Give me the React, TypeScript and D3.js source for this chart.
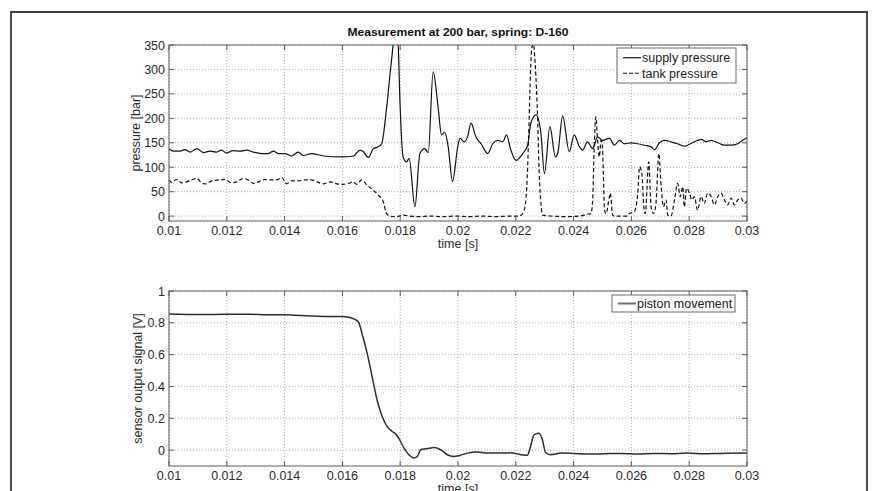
import React from 'react';
import * as d3 from 'd3';

// tick values
const timeTicks = [0.01, 0.012, 0.014, 0.016, 0.018, 0.02, 0.022, 0.024, 0.026, 0.028, 0.03];
const pressureTicks = [0, 50, 100, 150, 200, 250, 300, 350];
const signalTicks = [0, 0.2, 0.4, 0.6, 0.8, 1];

// supply pressure (time in ms, pressure in bar)
const supplyMs = [
  10.0, 10.15, 10.38, 10.55, 10.73, 10.96, 11.19, 11.42, 11.65, 11.82, 11.99, 12.22, 12.46, 12.69,
  12.92, 13.2, 13.44, 13.61, 13.78, 14.01, 14.24, 14.47, 14.65, 14.93, 15.35, 16.0, 16.38, 16.61,
  16.72, 16.9, 17.07, 17.24, 17.36, 17.53, 17.7, 17.85, 17.93, 17.99, 18.1, 18.22, 18.31, 18.51,
  18.68, 18.85, 18.97, 19.14, 19.31, 19.43, 19.54, 19.66, 19.81, 20.0, 20.07, 20.22, 20.33, 20.45,
  20.62, 20.8, 21.03, 21.2, 21.37, 21.55, 21.68, 21.83, 22.01, 22.24, 22.41, 22.52, 22.7, 22.87,
  22.99, 23.18, 23.37, 23.45, 23.62, 23.85, 24.02, 24.2, 24.31, 24.48, 24.66, 24.83, 25.0, 25.24,
  25.41, 25.59, 25.76, 25.99, 26.22, 26.45, 26.68, 26.8, 26.97, 27.14, 27.37, 27.6, 27.83, 28.01,
  28.18, 28.41, 28.58, 28.76, 28.99, 29.22, 29.45, 29.68, 29.85, 30.0,
];
const supplyBar = [
  138, 133, 133, 136, 131, 138, 130, 133, 131, 135, 129, 134, 133, 135,
  131, 128, 128, 133, 128, 128, 123, 131, 124, 128, 123, 121, 123, 135,
  132, 120, 138, 142, 148, 222, 319, 390, 350, 237, 121, 111, 118, 19,
  128, 138, 130, 295, 224, 166, 172, 142, 71, 145, 159, 152, 162, 190,
  162, 148, 128, 148, 155, 152, 166, 135, 114, 128, 145, 190, 207, 169,
  87, 183, 121, 128, 205, 132, 166, 142, 135, 152, 138, 162, 155, 159,
  145, 155, 148, 150, 148, 145, 142, 136, 150, 155, 152, 148, 143, 147,
  152, 157, 152, 155, 150, 145, 145, 148, 155, 160,
];

// tank pressure (time in ms, pressure in bar)
const tankMs = [
  10.0, 10.09, 10.27, 10.44, 10.61, 10.78, 10.96, 11.13, 11.25, 11.48, 11.71, 11.94, 12.17, 12.34,
  12.57, 12.74, 12.92, 13.09, 13.32, 13.55, 13.72, 13.9, 14.07, 14.24, 14.47, 14.7, 14.93, 15.12,
  15.35, 15.58, 15.81, 16.0, 16.21, 16.38, 16.49, 16.67, 16.84, 17.07, 17.24, 17.41, 17.53, 17.64,
  17.87, 18.1, 18.33, 18.68, 19.02, 19.48, 19.94, 20.39, 20.85, 21.31, 21.78, 22.06, 22.18, 22.29,
  22.38, 22.44, 22.49, 22.55, 22.61, 22.67, 22.76, 22.81, 22.87, 22.93, 23.27, 23.74, 24.2, 24.48,
  24.6, 24.66, 24.72, 24.77, 24.83, 24.89, 24.95, 24.99, 25.03, 25.07, 25.12, 25.24, 25.27, 25.35,
  25.41, 25.87, 25.93, 26.1, 26.22, 26.28, 26.36, 26.43, 26.48, 26.6, 26.68, 26.77, 26.85, 26.95,
  27.03, 27.11, 27.2, 27.26, 27.37, 27.49, 27.6, 27.69, 27.78, 27.83, 27.91, 28.01, 28.09, 28.18,
  28.29, 28.41, 28.52, 28.64, 28.76, 28.87, 28.99, 29.1, 29.22, 29.33, 29.45, 29.56, 29.68, 29.79,
  29.91, 30.0,
];
const tankBar = [
  74, 69, 75, 68, 70, 74, 77, 68, 66, 72, 74, 75, 68, 70,
  77, 74, 67, 70, 75, 74, 74, 79, 66, 72, 72, 74, 74, 70,
  66, 70, 66, 65, 67, 70, 65, 74, 64, 53, 43, 30, 5, 0,
  -1, 2, 0, -1, 0, -1, 0, -1, 0, -1, 0, 0, 2, 12,
  60, 155, 258, 343, 352, 312, 190, 87, 26, 2, 0, -1, 0, 4,
  5, 33, 155, 203, 155, 121, 155, 148, 87, 12, 5, 40, 47, 2,
  0, 0, 5, 9, 47, 101, 88, 19, 5, 111, 19, 5, 26, 128,
  60, 19, 33, 2, 0, 33, 67, 40, 60, 19, 57, 47, 33, 40,
  12, 40, 26, 47, 40, 23, 40, 47, 33, 23, 37, 23, 33, 37,
  26, 30,
];

// piston movement (time in ms, sensor signal in V)
const pistonMs = [
  10.0, 11.08, 12.0, 12.81, 13.39, 13.97, 14.55, 15.13, 15.7, 16.0, 16.21, 16.39, 16.56, 16.68,
  16.86, 17.03, 17.2, 17.38, 17.55, 17.72, 17.84, 17.95, 18.13, 18.3, 18.47, 18.59, 18.71, 18.88,
  19.05, 19.17, 19.4, 19.63, 19.86, 20.03, 20.32, 20.67, 21.01, 21.48, 21.82, 22.17, 22.4, 22.51,
  22.63, 22.8, 22.92, 23.03, 23.2, 23.55, 24.01, 24.47, 25.05, 25.62, 26.2, 26.78, 27.35, 27.93,
  28.51, 29.09, 30.0,
];
const pistonV = [
  0.856, 0.852, 0.854, 0.854, 0.85, 0.85, 0.846, 0.842, 0.84, 0.84, 0.835, 0.825, 0.804, 0.731,
  0.606, 0.46, 0.315, 0.21, 0.148, 0.117, 0.102, 0.075, 0.0125, -0.029, -0.05, -0.04, 0.002, 0.008,
  0.0125, 0.017, 0.002, -0.029, -0.04, -0.035, -0.019, -0.0125, -0.019, -0.019, -0.017, -0.029, -0.033, 0.023,
  0.096, 0.106, 0.065, -0.015, -0.029, -0.019, -0.021, -0.025, -0.023, -0.021, -0.025, -0.021, -0.023, -0.019,
  -0.023, -0.021, -0.019,
];

const W = 878;
const H = 491;
const FONT = '"Liberation Sans", Arial, Helvetica, sans-serif';
const LEFT = 169;
const RIGHT = 747;

const fmt = (v: number) => String(+v.toFixed(3));

interface Series {
  ms: number[];
  vals: number[];
  stroke: string;
  width: number;
  dash?: string;
}

interface LegendItem {
  label: string;
  stroke: string;
  width: number;
  dash?: string;
}

interface PanelProps {
  id: string;
  top: number;
  bottom: number;
  yDomain: [number, number];
  yTicks: number[];
  yLabel: string;
  yLabelX: number;
  series: Series[];
  legend: LegendItem[];
  legendBox: { x: number; y: number; w: number; h: number };
}

function Panel(props: PanelProps) {
  const { id, top, bottom, yDomain, yTicks, yLabel, yLabelX, series, legend, legendBox } = props;
  const x = d3.scaleLinear().domain([0.01, 0.03]).range([LEFT, RIGHT]);
  const y = d3.scaleLinear().domain(yDomain).range([bottom, top]);
  const tickLen = 5;

  const line = (s: Series) =>
    d3.line<number>()
      .x((_, i) => x(s.ms[i] / 1000))
      .y((v) => y(v))
      .curve(d3.curveMonotoneX)(s.vals) || '';

  const rowH = legend.length > 1 ? (legendBox.h - 4) / legend.length : legendBox.h;

  return (
    <g>
      <defs>
        <clipPath id={id}>
          <rect x={LEFT} y={top} width={RIGHT - LEFT} height={bottom - top} />
        </clipPath>
      </defs>
      <rect x={LEFT} y={top} width={RIGHT - LEFT} height={bottom - top} fill="#fff" />
      {/* grid */}
      <g stroke="#9a9a9a" strokeWidth={0.8} strokeDasharray="1,2">
        {timeTicks.map((t) => (
          <line key={'gx' + t} x1={x(t)} x2={x(t)} y1={top} y2={bottom} />
        ))}
        {yTicks.map((v) => (
          <line key={'gy' + v} x1={LEFT} x2={RIGHT} y1={y(v)} y2={y(v)} />
        ))}
      </g>
      {/* data */}
      <g clipPath={`url(#${id})`} fill="none">
        {series.map((s, i) => (
          <path key={i} d={line(s)} stroke={s.stroke} strokeWidth={s.width}
            strokeDasharray={s.dash} strokeLinejoin="round" />
        ))}
      </g>
      {/* box + ticks */}
      <rect x={LEFT} y={top} width={RIGHT - LEFT} height={bottom - top} fill="none" stroke="#5a5a5a" strokeWidth={1} />
      <g stroke="#5a5a5a" strokeWidth={1}>
        {timeTicks.map((t) => (
          <g key={'tx' + t}>
            <line x1={x(t)} x2={x(t)} y1={bottom} y2={bottom - tickLen} />
            <line x1={x(t)} x2={x(t)} y1={top} y2={top + tickLen} />
          </g>
        ))}
        {yTicks.map((v) => (
          <g key={'ty' + v}>
            <line x1={LEFT} x2={LEFT + tickLen} y1={y(v)} y2={y(v)} />
            <line x1={RIGHT} x2={RIGHT - tickLen} y1={y(v)} y2={y(v)} />
          </g>
        ))}
      </g>
      {/* tick labels */}
      <g fontFamily={FONT} fontSize={12.5} fill="#2a2a2a">
        {timeTicks.map((t) => (
          <text key={'lx' + t} x={x(t)} y={bottom + 14} textAnchor="middle">{fmt(t)}</text>
        ))}
        {yTicks.map((v) => (
          <text key={'ly' + v} x={LEFT - 4} y={y(v) + 4.5} textAnchor="end">{fmt(v)}</text>
        ))}
        <text x={(LEFT + RIGHT) / 2} y={bottom + 27} textAnchor="middle">time [s]</text>
        <text transform={`translate(${yLabelX},${(top + bottom) / 2}) rotate(-90)`} textAnchor="middle">{yLabel}</text>
      </g>
      {/* legend */}
      <rect x={legendBox.x} y={legendBox.y} width={legendBox.w} height={legendBox.h}
        fill="#fff" stroke="#6a6a6a" strokeWidth={1} />
      <g fontFamily={FONT} fontSize={12.5} fill="#1a1a1a">
        {legend.map((l, i) => {
          const cy = legendBox.y + (legend.length > 1 ? 2 : 0) + rowH * (i + 0.5);
          return (
            <g key={l.label}>
              <line x1={legendBox.x + 6} x2={legendBox.x + 24} y1={cy} y2={cy}
                stroke={l.stroke} strokeWidth={l.width} strokeDasharray={l.dash} />
              <text x={legendBox.x + 25} y={cy + 4.5}>{l.label}</text>
            </g>
          );
        })}
      </g>
    </g>
  );
}

export default function App() {
  return (
    <svg width={W} height={H} viewBox={`0 0 ${W} ${H}`}
      style={{ position: 'absolute', left: 0, top: 0, background: '#fff' }}>
      <rect x={0} y={0} width={W} height={H} fill="#fff" />
      {/* outer frame */}
      <path d={`M11,${H + 2} V12 H867 V${H + 2}`} fill="none" stroke="#3c3c3c" strokeWidth={1.8} />
      <text x={(LEFT + RIGHT) / 2} y={36} textAnchor="middle" fontFamily={FONT} fontWeight="bold"
        fontSize={11.5} textLength={221} lengthAdjust="spacingAndGlyphs" fill="#111">
        Measurement at 200 bar, spring: D-160
      </text>
      <Panel
        id="clipTop"
        top={45}
        bottom={221}
        yDomain={[-10, 350]}
        yTicks={pressureTicks}
        yLabel="pressure [bar]"
        yLabelX={140}
        series={[
          { ms: supplyMs, vals: supplyBar, stroke: '#111', width: 1.2 },
          { ms: tankMs, vals: tankBar, stroke: '#111', width: 1.2, dash: '4,2.5' },
        ]}
        legend={[
          { label: 'supply pressure', stroke: '#111', width: 1.2 },
          { label: 'tank pressure', stroke: '#111', width: 1.2, dash: '4,2' },
        ]}
        legendBox={{ x: 617, y: 48, w: 119, h: 35 }}
      />
      <Panel
        id="clipBottom"
        top={291}
        bottom={466}
        yDomain={[-0.1, 1]}
        yTicks={signalTicks}
        yLabel="sensor output signal [V]"
        yLabelX={142}
        series={[{ ms: pistonMs, vals: pistonV, stroke: '#2e2e2e', width: 1.5 }]}
        legend={[{ label: 'piston movement', stroke: '#6e6e6e', width: 2 }]}
        legendBox={{ x: 612, y: 295, w: 123, h: 17 }}
      />
    </svg>
  );
}
